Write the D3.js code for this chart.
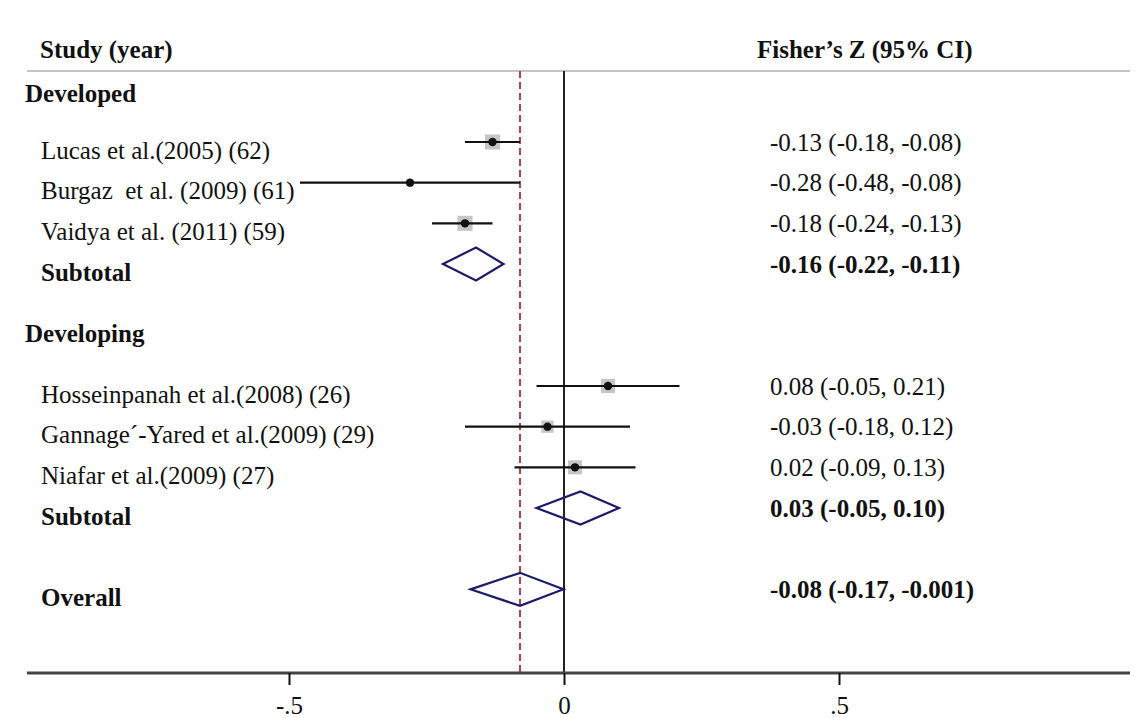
<!DOCTYPE html>
<html>
<head>
<meta charset="utf-8">
<script src="https://cdn.jsdelivr.net/npm/d3@7"></script>
<style>
  body { margin: 0; background: #fff; }
  svg text { font-family: "Liberation Serif", "Times New Roman", serif; fill: #111; white-space: pre; }
</style>
</head>
<body>
<div id="chart"></div>
<script>
// study rows
const studies = ["Lucas et al.(2005) (62)", "Burgaz  et al. (2009) (61)", "Vaidya et al. (2011) (59)",
                 "Hosseinpanah et al.(2008) (26)", "Gannage\u00b4-Yared et al.(2009) (29)", "Niafar et al.(2009) (27)"];
const studyRow = [0, 1, 2, 6, 7, 8];
const es = [-0.13, -0.28, -0.18, 0.08, -0.03, 0.02];
const lo = [-0.18, -0.48, -0.24, -0.05, -0.18, -0.09];
const hi = [-0.08, -0.08, -0.13, 0.21, 0.12, 0.13];
const weight = [38, 8, 38, 33, 25, 33];
const studyText = ["-0.13 (-0.18, -0.08)", "-0.28 (-0.48, -0.08)", "-0.18 (-0.24, -0.13)",
                   "0.08 (-0.05, 0.21)", "-0.03 (-0.18, 0.12)", "0.02 (-0.09, 0.13)"];

// pooled rows
const pooled = ["Subtotal", "Subtotal", "Overall"];
const pooledRow = [3, 9, 11];
const pooledEs = [-0.16, 0.03, -0.08];
const pooledLo = [-0.22, -0.05, -0.17];
const pooledHi = [-0.11, 0.10, -0.001];
const pooledText = ["-0.16 (-0.22, -0.11)", "0.03 (-0.05, 0.10)", "-0.08 (-0.17, -0.001)"];

const groups = ["Developed", "Developing"];
const groupRow = [-1.2, 4.7];

const xTicks = [-0.5, 0, 0.5];
const xTickLabels = ["-.5", "0", ".5"];

const W = 1141, H = 718;
const svg = d3.select("#chart").append("svg")
    .attr("width", W)
    .attr("height", H);

const x = d3.scaleLinear().domain([-0.5, 0.5]).range([289, 839]);
const y = d3.scaleLinear().domain([0, 9]).range([142, 508]);
const side = d3.scaleSqrt().domain([0, 40]).range([0, 15.5]);

const axisY = 673, topY = 71;
const fs = 25;

// header
svg.append("text").attr("x", 40).attr("y", 58)
    .attr("font-size", fs).attr("font-weight", "bold").text("Study (year)");
svg.append("text").attr("x", 757).attr("y", 58)
    .attr("font-size", fs).attr("font-weight", "bold").text("Fisher\u2019s Z (95% CI)");
svg.append("line").attr("x1", 27).attr("x2", 1130).attr("y1", topY).attr("y2", topY)
    .attr("stroke", "#c4c4c4").attr("stroke-width", 2);

// reference lines
svg.append("line").attr("x1", x(0)).attr("x2", x(0)).attr("y1", topY).attr("y2", axisY)
    .attr("stroke", "#222").attr("stroke-width", 2);
svg.append("line").attr("x1", x(pooledEs[2])).attr("x2", x(pooledEs[2])).attr("y1", topY).attr("y2", axisY)
    .attr("stroke", "#ad4456").attr("stroke-width", 2).attr("stroke-dasharray", "7,4");

// group labels
svg.selectAll("text.group").data(groups).enter().append("text")
    .attr("class", "group")
    .attr("x", 25).attr("y", (d, i) => y(groupRow[i]))
    .attr("dy", "0.35em")
    .attr("font-size", fs).attr("font-weight", "bold")
    .text(d => d);

// studies
const st = svg.selectAll("g.study").data(studies).enter().append("g").attr("class", "study");

st.append("text")
    .attr("x", 41).attr("y", (d, i) => y(studyRow[i]) + 8)
    .attr("dy", "0.35em").attr("font-size", fs)
    .text(d => d);

st.append("rect")
    .attr("x", (d, i) => x(es[i]) - side(weight[i]) / 2)
    .attr("y", (d, i) => y(studyRow[i]) - side(weight[i]) / 2)
    .attr("width", (d, i) => side(weight[i]))
    .attr("height", (d, i) => side(weight[i]))
    .attr("fill", "#c6c6c6");

st.append("line")
    .attr("x1", (d, i) => x(lo[i])).attr("x2", (d, i) => x(hi[i]))
    .attr("y1", (d, i) => y(studyRow[i])).attr("y2", (d, i) => y(studyRow[i]))
    .attr("stroke", "#111").attr("stroke-width", 2.2);

st.append("circle")
    .attr("cx", (d, i) => x(es[i])).attr("cy", (d, i) => y(studyRow[i]))
    .attr("r", 4.2).attr("fill", "#111");

st.append("text")
    .attr("x", 770).attr("y", (d, i) => y(studyRow[i]))
    .attr("dy", "0.35em").attr("font-size", fs)
    .text((d, i) => studyText[i]);

// pooled estimates
const pg = svg.selectAll("g.pooled").data(pooled).enter().append("g").attr("class", "pooled");

pg.append("text")
    .attr("x", 41).attr("y", (d, i) => y(pooledRow[i]) + 8)
    .attr("dy", "0.35em").attr("font-size", fs).attr("font-weight", "bold")
    .text(d => d);

pg.append("path")
    .attr("d", (d, i) => {
        const cy = y(pooledRow[i]), h = 16.5;
        return `M ${x(pooledLo[i])} ${cy} L ${x(pooledEs[i])} ${cy - h} L ${x(pooledHi[i])} ${cy} L ${x(pooledEs[i])} ${cy + h} Z`;
    })
    .attr("fill", "none").attr("stroke", "#1b1b6a").attr("stroke-width", 2.2);

pg.append("text")
    .attr("x", 770).attr("y", (d, i) => y(pooledRow[i]))
    .attr("dy", "0.35em").attr("font-size", fs).attr("font-weight", "bold")
    .text((d, i) => pooledText[i]);

// x axis
const axis = svg.append("g").attr("transform", `translate(0,${axisY})`);
axis.append("line").attr("x1", 27).attr("x2", 1130)
    .attr("stroke", "#444").attr("stroke-width", 3);
axis.call(d3.axisBottom(x).tickValues(xTicks).tickSize(12).tickFormat((d, i) => xTickLabels[i]))
    .call(g => g.select(".domain").remove());
axis.selectAll(".tick line").attr("stroke", "#111").attr("stroke-width", 2);
axis.selectAll(".tick text").attr("font-size", fs).attr("font-family", "Liberation Serif").attr("fill", "#111")
    .attr("y", 41).attr("dy", 0);
</script>
</body>
</html>
